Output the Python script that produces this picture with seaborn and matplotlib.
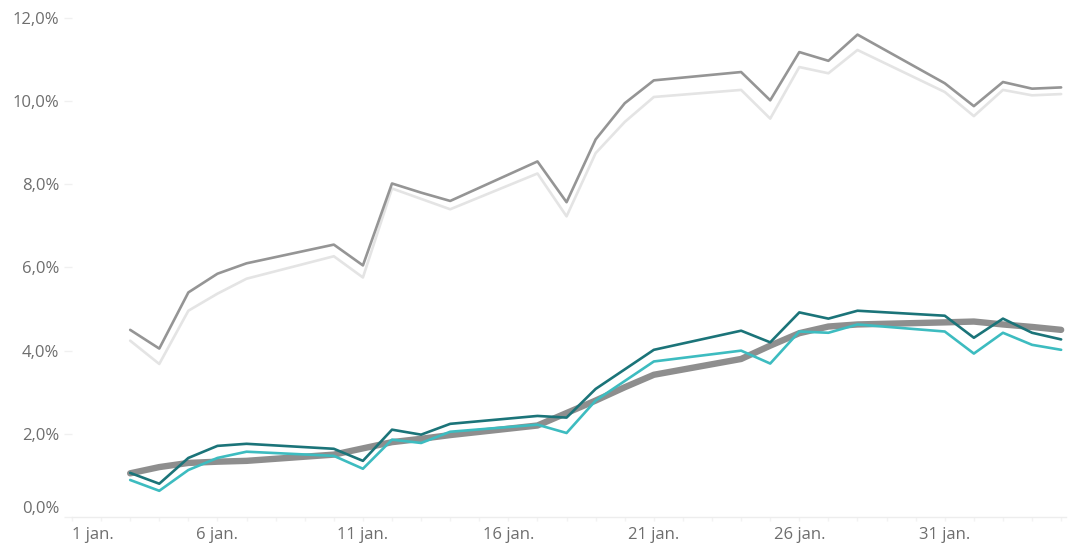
import matplotlib
matplotlib.use("Agg")
import matplotlib.pyplot as plt
import matplotlib.dates as mdates
import matplotlib.transforms as mtransforms
import seaborn as sns
import pandas as pd
import numpy as np

# werkdagen jan/feb 2022
datums = ["2022-01-03", "2022-01-04", "2022-01-05", "2022-01-06", "2022-01-07",
          "2022-01-10", "2022-01-11", "2022-01-12", "2022-01-13", "2022-01-14",
          "2022-01-17", "2022-01-18", "2022-01-19", "2022-01-20", "2022-01-21",
          "2022-01-24", "2022-01-25", "2022-01-26", "2022-01-27", "2022-01-28",
          "2022-01-31", "2022-02-01", "2022-02-02", "2022-02-03", "2022-02-04"]

grijs_donker = [4.50, 4.05, 5.40, 5.85, 6.10, 6.55, 6.05, 8.02, 7.80, 7.60,
                8.55, 7.57, 9.08, 9.95, 10.50, 10.70, 10.02, 11.18, 10.97, 11.60,
                10.43, 9.88, 10.46, 10.30, 10.33]
grijs_licht = [4.24, 3.68, 4.96, 5.37, 5.73, 6.27, 5.76, 7.90, 7.65, 7.40,
               8.26, 7.23, 8.75, 9.50, 10.10, 10.27, 9.58, 10.82, 10.67, 11.23,
               10.22, 9.64, 10.27, 10.14, 10.17]
trend = [1.05, 1.20, 1.30, 1.33, 1.35, 1.50, 1.65, 1.80, 1.88, 1.97,
         2.20, 2.50, 2.80, 3.12, 3.42, 3.80, 4.12, 4.42, 4.58, 4.63,
         4.68, 4.70, 4.63, 4.57, 4.50]
teal_donker = [1.06, 0.80, 1.42, 1.71, 1.76, 1.64, 1.35, 2.10, 1.98, 2.24,
               2.43, 2.39, 3.08, 3.55, 4.02, 4.48, 4.20, 4.92, 4.77, 4.96,
               4.84, 4.31, 4.77, 4.43, 4.27]
teal_licht = [0.89, 0.63, 1.13, 1.42, 1.57, 1.47, 1.16, 1.86, 1.78, 2.05,
              2.22, 2.02, 2.80, 3.27, 3.74, 4.00, 3.69, 4.46, 4.43, 4.63,
              4.46, 3.93, 4.43, 4.14, 4.02]

tick_datums = ["2022-01-01", "2022-01-06", "2022-01-11", "2022-01-16",
               "2022-01-21", "2022-01-26", "2022-01-31"]
tick_labels = ["1 jan.", "6 jan.", "11 jan.", "16 jan.", "21 jan.", "26 jan.", "31 jan."]

df = pd.DataFrame({
    "datum": pd.to_datetime(datums),
    "grijs_donker": grijs_donker,
    "grijs_licht": grijs_licht,
    "trend": trend,
    "teal_donker": teal_donker,
    "teal_licht": teal_licht,
})

sns.set_theme(style="white")
plt.rcParams["font.family"] = ["Open Sans", "DejaVu Sans"]

fig = plt.figure(figsize=(10.76, 5.43), dpi=100)
ax = fig.add_axes([0.0669, 0.0479, 0.9238, 0.919])

sns.lineplot(data=df, x="datum", y="grijs_licht", ax=ax, color="#e4e4e4", linewidth=1.9)
sns.lineplot(data=df, x="datum", y="grijs_donker", ax=ax, color="#959595", linewidth=1.9)
sns.lineplot(data=df, x="datum", y="trend", ax=ax, color="#8e8e8e", linewidth=4.6,
             solid_capstyle="round")
sns.lineplot(data=df, x="datum", y="teal_licht", ax=ax, color="#3dbcc0", linewidth=1.9)
sns.lineplot(data=df, x="datum", y="teal_donker", ax=ax, color="#1b7479", linewidth=1.9)

ax.set_ylim(0, 12)
ax.set_xlim(pd.Timestamp("2022-01-01"), pd.Timestamp("2022-02-04 04:00"))
ax.set_xlabel("")
ax.set_ylabel("")

ax.set_yticks(np.arange(0, 12.1, 2))
ax.yaxis.set_major_formatter(plt.FuncFormatter(lambda v, p: f"{v:.1f}%".replace(".", ",")))

ax.set_xticks(pd.to_datetime(tick_datums))
ax.set_xticklabels(tick_labels)
ax.xaxis.set_minor_locator(mdates.DayLocator())

for s in ["top", "right", "left"]:
    ax.spines[s].set_visible(False)
ax.spines["bottom"].set_color("#ededed")
ax.spines["bottom"].set_linewidth(1)

ax.tick_params(axis="y", length=6, width=1, color="#f0f0f0", pad=3,
               labelsize=12, labelcolor="#6e6e6e", left=True)
ax.tick_params(axis="x", which="both", length=3, width=1, color="#f3f3f3", pad=4,
               labelsize=12, labelcolor="#6e6e6e", bottom=True)
ax.grid(False)

fig.canvas.draw()
# eerste labels verschuiven zoals in het origineel
ylab = ax.get_yticklabels()[0]
ylab.set_transform(ylab.get_transform() + mtransforms.ScaledTranslation(0, 10 / 100, fig.dpi_scale_trans))
ax.get_xticklabels()[0].set_horizontalalignment("left")

fig.savefig("out.png", dpi=100, facecolor="white")
